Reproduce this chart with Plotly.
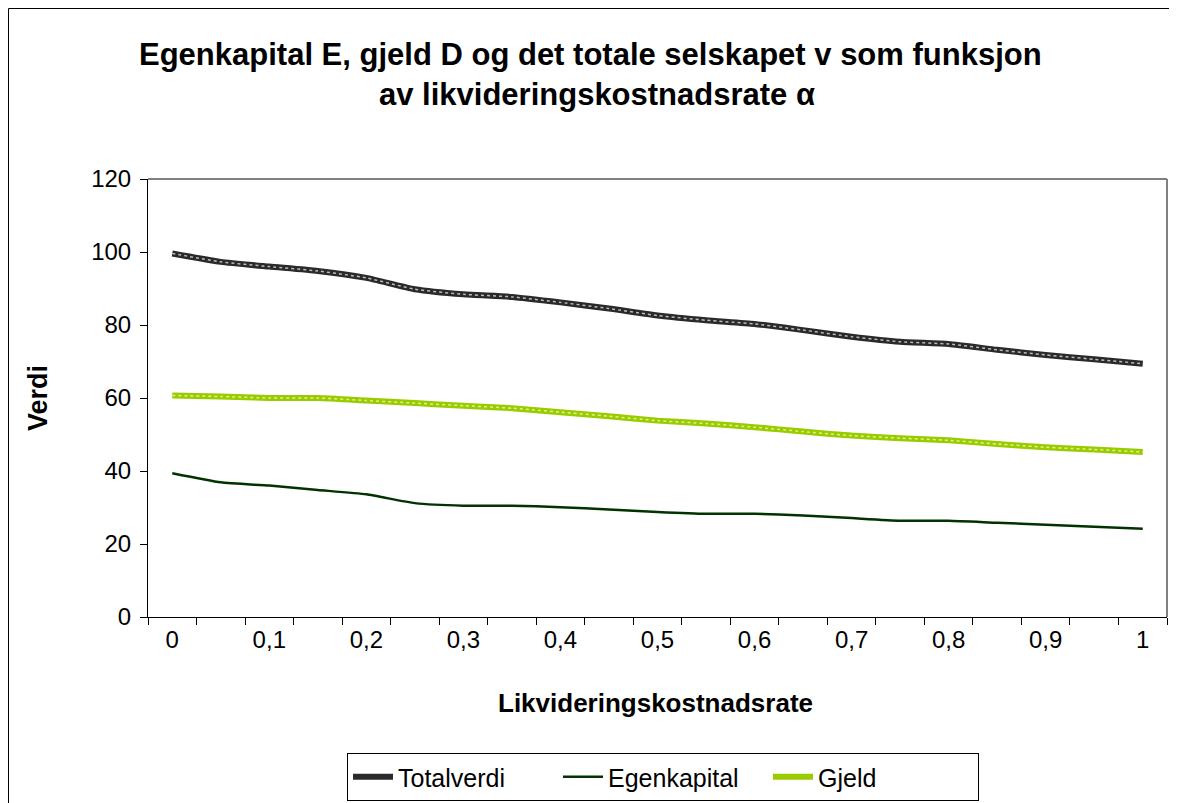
import plotly.graph_objects as go

alpha = [0, 0.05, 0.1, 0.15, 0.2, 0.25, 0.3, 0.35, 0.4, 0.45, 0.5,
         0.55, 0.6, 0.65, 0.7, 0.75, 0.8, 0.85, 0.9, 0.95, 1]
totalverdi = [99.6, 97.3, 96.0, 94.8, 92.9, 89.8, 88.4, 87.7, 86.2, 84.5, 82.6,
              81.3, 80.3, 78.6, 76.8, 75.4, 74.8, 73.2, 71.8, 70.6, 69.4]
egenkapital = [39.4, 36.9, 36.0, 34.8, 33.6, 31.2, 30.5, 30.5, 30.1, 29.45, 28.8,
               28.3, 28.3, 27.8, 27.1, 26.4, 26.35, 25.8, 25.3, 24.7, 24.2]
gjeld = [60.7, 60.4, 60.0, 60.0, 59.3, 58.6, 57.9, 57.2, 56.1, 55.0, 53.8,
         53.0, 52.0, 50.8, 49.7, 49.0, 48.4, 47.4, 46.5, 45.9, 45.2]
tick_vals = [0, 0.1, 0.2, 0.3, 0.4, 0.5, 0.6, 0.7, 0.8, 0.9, 1]
tick_text = ["0", "0,1", "0,2", "0,3", "0,4", "0,5", "0,6", "0,7", "0,8", "0,9", "1"]

FONT = "Liberation Sans, Arial, sans-serif"

fig = go.Figure()
fig.add_trace(go.Scatter(x=alpha, y=totalverdi, name="Totalverdi", mode="lines",
                         line=dict(color="#2a2a2a", width=6, shape="spline", smoothing=0.5)))
fig.add_trace(go.Scatter(x=alpha, y=totalverdi, showlegend=False, mode="lines", hoverinfo="skip",
                         line=dict(color="#bbbbbb", width=1.5, dash="dot", shape="spline", smoothing=0.5)))
fig.add_trace(go.Scatter(x=alpha, y=egenkapital, name="Egenkapital", mode="lines",
                         line=dict(color="#003300", width=2.5, shape="spline", smoothing=0.5)))
fig.add_trace(go.Scatter(x=alpha, y=gjeld, name="Gjeld", mode="lines",
                         line=dict(color="#99cc00", width=6, shape="spline", smoothing=0.5)))
fig.add_trace(go.Scatter(x=alpha, y=gjeld, showlegend=False, mode="lines", hoverinfo="skip",
                         line=dict(color="#dff08a", width=1.5, dash="dot", shape="spline", smoothing=0.5)))

# figure coordinates (page is offset 8px by body margin)
W, H = 1177, 803
L, T = 140, 171
pw, ph = 1019, 438
R, B = W - L - pw, H - T - ph

def px(xf):
    return (xf - L) / pw

def py(yf):
    return (T + ph - yf) / ph

fig.update_layout(
    width=W, height=H,
    margin=dict(l=L, r=R, t=T, b=B, autoexpand=False),
    paper_bgcolor="white", plot_bgcolor="white",
    font=dict(family=FONT, color="black", size=24),
    showlegend=True,
    legend=dict(orientation="h", x=px(655), xanchor="center",
                y=py(745), yanchor="top",
                bordercolor="black", borderwidth=1, bgcolor="white",
                font=dict(size=25, family=FONT), itemwidth=40,
                entrywidth=155, entrywidthmode="pixels",
                tracegroupgap=0),
    xaxis=dict(range=[-0.025, 1.025], tickvals=tick_vals, ticktext=tick_text,
               ticks="", showgrid=False, zeroline=False,
               showline=True, linecolor="black", linewidth=1,
               tickfont=dict(size=24), ticklabelstandoff=1,
               minor=dict(tick0=0.025, dtick=0.05, ticks="outside", ticklen=7,
                          tickcolor="black", showgrid=False)),
    yaxis=dict(range=[0, 120], dtick=20, ticks="outside", ticklen=7, tickcolor="black",
               showgrid=False, zeroline=False, showline=True, linecolor="black", linewidth=1,
               tickfont=dict(size=24), ticklabelstandoff=4),
)

# gray plot-area frame (top and right)
fig.add_shape(type="line", xref="x domain", yref="y domain", x0=0, x1=1, y0=1, y1=1,
              line=dict(color="#808080", width=2), layer="below")
fig.add_shape(type="line", xref="x domain", yref="y domain", x0=1, x1=1, y0=0, y1=1,
              line=dict(color="#808080", width=2), layer="below")
# outer chart border
fig.add_shape(type="rect", xref="paper", yref="paper",
              x0=px(0.5), x1=px(1167.5), y0=py(H + 20), y1=py(0.5),
              line=dict(color="black", width=1))

fig.add_annotation(text="<b>Egenkapital E, gjeld D og det totale selskapet v som funksjon</b>",
                   xref="paper", yref="paper", x=px(582), y=py(46),
                   showarrow=False, font=dict(size=31, family=FONT), xanchor="center", yanchor="middle")
fig.add_annotation(text="<b>av likvideringskostnadsrate α</b>",
                   xref="paper", yref="paper", x=px(589), y=py(86),
                   showarrow=False, font=dict(size=31, family=FONT), xanchor="center", yanchor="middle")
fig.add_annotation(text="<b>Likvideringskostnadsrate</b>",
                   xref="paper", yref="paper", x=px(647), y=py(695),
                   showarrow=False, font=dict(size=26, family=FONT), xanchor="center", yanchor="middle")
fig.add_annotation(text="<b>Verdi</b>", textangle=-90,
                   xref="paper", yref="paper", x=px(30), y=py(390),
                   showarrow=False, font=dict(size=27, family=FONT), xanchor="center", yanchor="middle")

fig.write_html("out.html")
